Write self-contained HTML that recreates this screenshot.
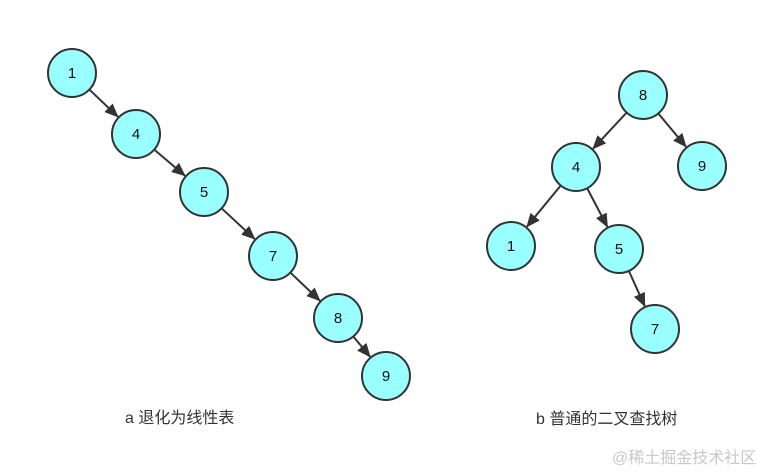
<!DOCTYPE html>
<html><head><meta charset="utf-8"><style>
body{margin:0;background:#fff;width:757px;height:471px;overflow:hidden}
svg text{font-family:"Liberation Sans","Noto Sans CJK SC",sans-serif}
</style></head><body>
<svg id="s" width="757" height="471" xmlns="http://www.w3.org/2000/svg">
<defs><marker id="a" markerWidth="14" markerHeight="12" refX="13" refY="6" orient="auto" markerUnits="userSpaceOnUse"><path d="M0,0 L14,6 L0,12 z" fill="#333"/></marker></defs>
<g id="e"></g><g id="n"></g>
<text x="125" y="423" font-size="16" fill="#333">a 退化为线性表</text>
<text x="536" y="424" font-size="16" fill="#333">b 普通的二叉查找树</text>
<text x="612" y="463" font-size="16" fill="#c8c8c8">@稀土掘金技术社区</text>
</svg>
<script>
var N={a1:[72,73,'1'],a4:[136,134,'4'],a5:[204,192,'5'],a7:[273,256,'7'],a8:[338,318,'8'],a9:[386,376,'9'],
b8:[643,95,'8'],b4:[576,167,'4'],b9:[702,166,'9'],b1:[511,246,'1'],b5:[619,249,'5'],b7:[655,329,'7']};
var E=[['a1','a4'],['a4','a5'],['a5','a7'],['a7','a8'],['a8','a9'],['b8','b4'],['b8','b9'],['b4','b1'],['b4','b5'],['b5','b7']];
var ns='http://www.w3.org/2000/svg',R=24,g=document.getElementById('e'),h=document.getElementById('n');
E.forEach(function(p){var A=N[p[0]],B=N[p[1]],dx=B[0]-A[0],dy=B[1]-A[1],d=Math.hypot(dx,dy),ux=dx/d,uy=dy/d;
var l=document.createElementNS(ns,'line');l.setAttribute('x1',A[0]+ux*R);l.setAttribute('y1',A[1]+uy*R);
l.setAttribute('x2',B[0]-ux*(R+1));l.setAttribute('y2',B[1]-uy*(R+1));l.setAttribute('stroke','#333');l.setAttribute('stroke-width','2');l.setAttribute('marker-end','url(#a)');g.appendChild(l);});
for(var k in N){var c=document.createElementNS(ns,'circle');c.setAttribute('cx',N[k][0]);c.setAttribute('cy',N[k][1]);c.setAttribute('r',R);
c.setAttribute('fill','#99ffff');c.setAttribute('stroke','#333');c.setAttribute('stroke-width','2');h.appendChild(c);
var t=document.createElementNS(ns,'text');t.setAttribute('x',N[k][0]);t.setAttribute('y',N[k][1]+5);t.setAttribute('text-anchor','middle');t.setAttribute('font-size','15');t.setAttribute('fill','#111');t.textContent=N[k][2];h.appendChild(t);}
</script>
</body></html>
